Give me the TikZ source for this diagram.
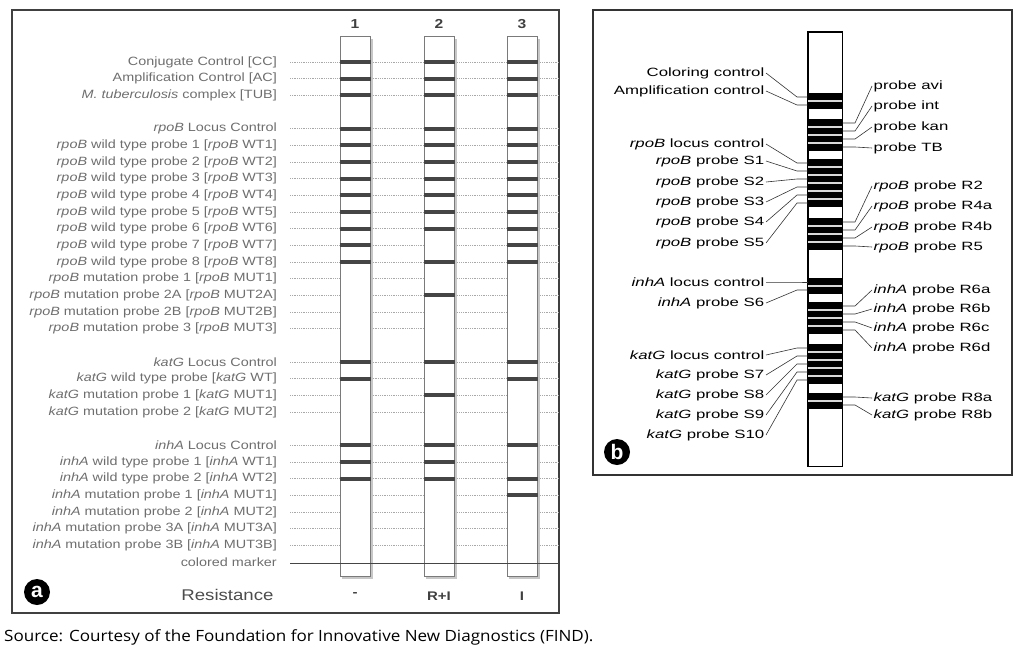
\documentclass[tikz,border=0pt]{standalone}
\usepackage{fontspec}
\setmainfont{Liberation Sans}
\newfontfamily\panelafont[FakeStretch=1.2]{Liberation Sans}
\newfontfamily\panelbfont[FakeStretch=1.4]{Liberation Sans}
\newfontfamily\sourcefont[FakeStretch=1.1]{Open Sans}
\usetikzlibrary{positioning}

\definecolor{labgray}{HTML}{6E6E6E}
\definecolor{dotgray}{HTML}{A8A8A8}
\definecolor{bandgray}{HTML}{454545}
\definecolor{stripgray}{HTML}{7A7A7A}

\tikzset{
  rowlab/.style={anchor=east,inner sep=1pt,text=labgray,
    font=\panelafont\fontsize{12}{12}\selectfont},
  dotline/.style={dotgray,densely dotted,line width=0.8pt},
  stripbox/.style={draw=stripgray,fill=white,line width=1pt,
    minimum width=30pt,minimum height=540pt,inner sep=0pt},
  band/.style={bandgray,line width=4pt},
  blab/.style={inner sep=1.5pt,font=\panelbfont\fontsize{12}{12}\selectfont},
  leader/.style={line width=0.6pt,black!80},
  tag/.style={circle,fill=black,text=white,minimum size=26pt,inner sep=0pt,
    font=\fontsize{21}{21}\selectfont\bfseries}
}

\begin{document}
\begin{tikzpicture}[x=1pt,y=-1pt]
  \useasboundingbox (0,0) rectangle (1024,654);

  % panel a
  \draw[line width=1.4pt,black!75] (12,10) rectangle (559,613);
  \coordinate (aR) at (559,0);
  \foreach \k/\txt in {0/{Conjugate Control [CC]},
      1/{Amplification Control [AC]},
      2/{\textit{M. tuberculosis} complex [TUB]},
      4/{\textit{rpoB} Locus Control},
      13/{\textit{rpoB} mutation probe 1 [\textit{rpoB} MUT1]},
      14/{\textit{rpoB} mutation probe 2A [\textit{rpoB} MUT2A]},
      15/{\textit{rpoB} mutation probe 2B [\textit{rpoB} MUT2B]},
      16/{\textit{rpoB} mutation probe 3 [\textit{rpoB} MUT3]},
      18/{\textit{katG} Locus Control},
      19/{\textit{katG} wild type probe [\textit{katG} WT]},
      20/{\textit{katG} mutation probe 1 [\textit{katG} MUT1]},
      21/{\textit{katG} mutation probe 2 [\textit{katG} MUT2]},
      23/{\textit{inhA} Locus Control},
      24/{\textit{inhA} wild type probe 1 [\textit{inhA} WT1]},
      25/{\textit{inhA} wild type probe 2 [\textit{inhA} WT2]},
      26/{\textit{inhA} mutation probe 1 [\textit{inhA} MUT1]},
      27/{\textit{inhA} mutation probe 2 [\textit{inhA} MUT2]},
      28/{\textit{inhA} mutation probe 3A [\textit{inhA} MUT3A]},
      29/{\textit{inhA} mutation probe 3B [\textit{inhA} MUT3B]}} {
    \node[rowlab] (lab\k) at (278,{62+16.67*\k}) {\txt};
    \coordinate (dot\k) at (290,{62+16.67*\k});
    \draw[dotline] (dot\k) -- (dot\k -| aR);
  }
  % wild type rows
  \foreach \w [evaluate=\w as \k using int(\w+4)] in {1,...,8} {
    \node[rowlab] (lab\k) at (278,{62+16.67*\k}) {\textit{rpoB} wild type probe \w{} [\textit{rpoB} WT\w]};
    \coordinate (dot\k) at (290,{62+16.67*\k});
    \draw[dotline] (dot\k) -- (dot\k -| aR);
  }
  \node[rowlab] (lab30) at (278,562) {colored marker};
  \coordinate (mk) at (290,563);

  % strips
  \foreach \n/\x in {1/355,2/439,3/522} {
    \fill[black!22] (\x-13,39) rectangle (\x+18,579);
    \node[stripbox] (s\n) at (\x,306) {};
    \node[font=\panelafont\bfseries\fontsize{13}{13}\selectfont,text=black!75,
      above=3pt of s\n] (num\n) {\n};
  }
  \foreach \k in {0,1,2,4,5,6,7,8,9,10,11,12,18,19,23,24,25}
    \draw[band] (s1.west |- dot\k) -- (s1.east |- dot\k);
  \foreach \k in {0,1,2,4,5,6,7,8,9,10,12,14,18,20,23,24,25}
    \draw[band] (s2.west |- dot\k) -- (s2.east |- dot\k);
  \foreach \k in {0,1,2,4,5,6,7,8,9,10,11,12,18,19,23,25,26}
    \draw[band] (s3.west |- dot\k) -- (s3.east |- dot\k);
  \draw[bandgray,line width=0.8pt] (mk) -- (mk -| aR);

  \node[font=\panelafont\fontsize{15.5}{15.5}\selectfont,text=black!70,anchor=east]
    (res) at (277,595) {Resistance};
  \node[font=\panelafont\bfseries\fontsize{12.5}{12.5}\selectfont,text=black!75,
    below=12pt of s1] (r1) {-};
  \node[font=\panelafont\bfseries\fontsize{12.5}{12.5}\selectfont,text=black!75,
    below=12pt of s2] (r2) {R+I};
  \node[font=\panelafont\bfseries\fontsize{12.5}{12.5}\selectfont,text=black!75,
    below=12pt of s3] (r3) {I};
  \node[tag] (taga) at (37,592) {a};

  % panel b
  \draw[line width=1.4pt,black!80] (593,10) rectangle (1012,475);
  \node[draw,line width=1pt,fill=white,minimum width=34pt,minimum height=434pt,
    inner sep=0pt] (sb) at (825,249) {};
  \foreach \t/\b/\seps in {93/109/{101},119/151/{127,135,143},
      159/207/{167,175,183,191,199},218/250/{226,234,242},278/294/{286},
      302/334/{310,318,326},344/384/{352,360,368,376},393/409/{401}} {
    \fill[black] (sb.west |- 0,\t) rectangle (sb.east |- 0,\b);
    \foreach \s in \seps
      \draw[white!85!black,line width=1.4pt] (sb.west |- 0,\s) -- (sb.east |- 0,\s);
  }
  \draw[line width=1pt] (sb.south west) rectangle (sb.north east);

  \foreach \nm/\ly/\by/\txt in {cc/73/97/{Coloring control},
      ac/91/105/{Amplification control},
      rlc/144/163/{\textit{rpoB} locus control},
      s1/161/171/{\textit{rpoB} probe S1},
      s2/182/179/{\textit{rpoB} probe S2},
      s3/202/187/{\textit{rpoB} probe S3},
      s4/222/195/{\textit{rpoB} probe S4},
      s5/243/203/{\textit{rpoB} probe S5},
      ilc/282/282/{\textit{inhA} locus control},
      s6/303/290/{\textit{inhA} probe S6},
      klc/355/348/{\textit{katG} locus control},
      s7/375/356/{\textit{katG} probe S7},
      s8/395/364/{\textit{katG} probe S8},
      s9/415/372/{\textit{katG} probe S9},
      s10/435/380/{\textit{katG} probe S10}} {
    \node[blab,anchor=east] (\nm) at (766,\ly) {\txt};
    \draw[leader] (\nm.east) -- (797,\by) -- (sb.west |- 0,\by);
  }
  \foreach \nm/\ly/\by/\txt in {avi/86/123/{probe avi},
      int/106/131/{probe int},
      kan/127/139/{probe kan},
      tb/148/147/{probe TB},
      r2/186/222/{\textit{rpoB} probe R2},
      r4a/206/230/{\textit{rpoB} probe R4a},
      r4b/227/238/{\textit{rpoB} probe R4b},
      r5/247/246/{\textit{rpoB} probe R5},
      r6a/290/306/{\textit{inhA} probe R6a},
      r6b/309/314/{\textit{inhA} probe R6b},
      r6c/328/322/{\textit{inhA} probe R6c},
      r6d/348/330/{\textit{inhA} probe R6d},
      r8a/398/397/{\textit{katG} probe R8a},
      r8b/415/405/{\textit{katG} probe R8b}} {
    \node[blab,anchor=west] (\nm) at (872,\ly) {\txt};
    \draw[leader] (sb.east |- 0,\by) -- (855,\by) -- (\nm.west);
  }
  \node[tag] (tagb) at (617,452) {b};

  \node[anchor=west,inner sep=0pt,font=\sourcefont\fontsize{15.5}{15.5}\selectfont]
    (src) at (4,637) {Source: Courtesy of the Foundation for Innovative New Diagnostics (FIND).};
\end{tikzpicture}
\end{document}
